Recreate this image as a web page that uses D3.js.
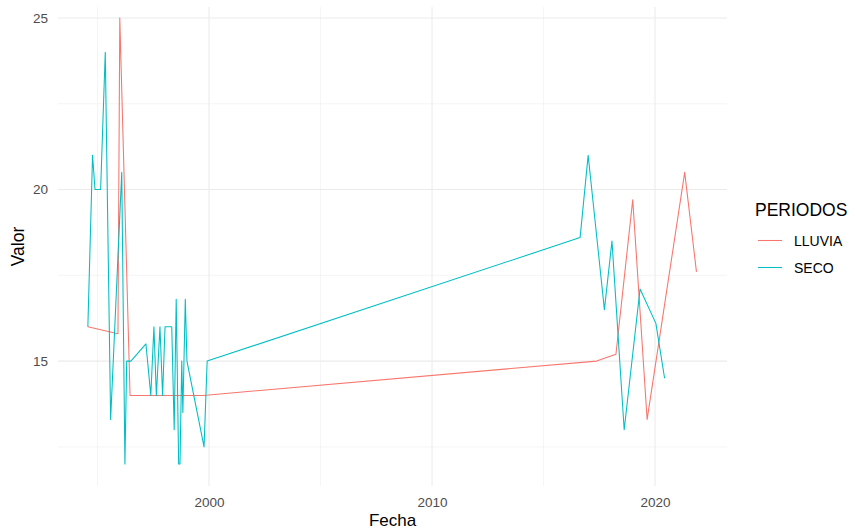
<!DOCTYPE html>
<html>
<head>
<meta charset="utf-8">
<script src="https://cdn.jsdelivr.net/npm/d3@7"></script>
<style>
  body { margin: 0; background: #fff; }
  svg { display: block; font-family: "Liberation Sans", Arial, sans-serif; }
</style>
</head>
<body>
<div id="chart"></div>
<script>
// values
const seriesNames = ["LLUVIA", "SECO"];
const seriesColors = ["#F8766D", "#00BFC4"];

const lluviaDates = ["1994-07-27", "1995-12-02", "1996-01-01", "1996-06-17", "1999-10-01",
  "2017-05-19", "2018-04-01", "2019-01-01", "2019-08-25", "2021-05-01", "2021-11-10"];
const lluviaValues = [16.0, 15.8, 25.0, 14.0, 14.0, 15.0, 15.2, 19.7, 13.3, 20.5, 17.6];

const secoDates = ["1994-07-27", "1994-10-12", "1994-11-21", "1995-02-21", "1995-05-08",
  "1995-08-04", "1996-02-02", "1996-03-25", "1996-04-23", "1996-07-01", "1997-03-04",
  "1997-05-23", "1997-07-13", "1997-08-22", "1997-10-20", "1997-12-02", "1998-01-11",
  "1998-05-01", "1998-06-10", "1998-07-13", "1998-08-22", "1998-09-13", "1998-10-12",
  "1998-10-30", "1998-12-09", "1999-01-05", "1999-10-12", "1999-12-02", "2016-08-22",
  "2017-01-01", "2017-09-24", "2018-01-26", "2018-08-14", "2019-05-01", "2020-01-15",
  "2020-06-06"];
const secoValues = [16.0, 21.0, 20.0, 20.0, 24.0, 13.3, 20.5, 12.0, 15.0, 15.0, 15.5,
  14.0, 16.0, 14.0, 16.0, 14.0, 16.0, 16.0, 13.0, 16.8, 12.0, 12.0, 15.0, 13.5, 16.8,
  15.0, 12.5, 15.0, 18.6, 21.0, 16.5, 18.5, 13.0, 17.1, 16.1, 14.5];

const xMajor = ["2000-01-01", "2010-01-01", "2020-01-01"];
const xMinor = ["1995-01-01", "2005-01-01", "2015-01-01"];
const yMajor = [15, 20, 25];
const yMinor = [12.5, 17.5, 22.5];

const parse = d3.timeParse("%Y-%m-%d");
const series = [
  { name: seriesNames[0], color: seriesColors[0],
    pts: lluviaDates.map((d, i) => ({ t: parse(d), v: lluviaValues[i] })) },
  { name: seriesNames[1], color: seriesColors[1],
    pts: secoDates.map((d, i) => ({ t: parse(d), v: secoValues[i] })) }
];

const W = 856, H = 531;
const m = { t: 7, r: 129, b: 45, l: 58 };
const svg = d3.select("#chart").append("svg").attr("width", W).attr("height", H);

// panel limits as ggplot set them (data range + 5%)
const x = d3.scaleTime()
  .domain([new Date(1993, 2, 25), new Date(2023, 2, 25)])
  .range([m.l, W - m.r]);
const y = d3.scaleLinear().domain([11.36, 25.32]).range([H - m.b, m.t]);

const grid = svg.append("g");
grid.selectAll(".xmin").data(xMinor.map(parse)).join("line")
  .attr("x1", d => x(d)).attr("x2", d => x(d)).attr("y1", m.t).attr("y2", H - m.b)
  .attr("stroke", "#EBEBEB").attr("stroke-width", 0.55);
grid.selectAll(".ymin").data(yMinor).join("line")
  .attr("x1", m.l).attr("x2", W - m.r).attr("y1", d => y(d)).attr("y2", d => y(d))
  .attr("stroke", "#EBEBEB").attr("stroke-width", 0.55);
grid.selectAll(".xmaj").data(xMajor.map(parse)).join("line")
  .attr("x1", d => x(d)).attr("x2", d => x(d)).attr("y1", m.t).attr("y2", H - m.b)
  .attr("stroke", "#EBEBEB").attr("stroke-width", 1.07);
grid.selectAll(".ymaj").data(yMajor).join("line")
  .attr("x1", m.l).attr("x2", W - m.r).attr("y1", d => y(d)).attr("y2", d => y(d))
  .attr("stroke", "#EBEBEB").attr("stroke-width", 1.07);

const line = d3.line().x(d => x(d.t)).y(d => y(d.v));
series.forEach(s => {
  svg.append("path").datum(s.pts).attr("d", line)
    .attr("fill", "none").attr("stroke", s.color).attr("stroke-width", 1.07)
    .attr("stroke-linejoin", "round");
});

// axes
const ax = svg.append("g").attr("transform", `translate(${m.l - 1},0)`)
  .call(d3.axisLeft(y).tickValues(yMajor).tickSize(0).tickPadding(9));
const bx = svg.append("g").attr("transform", `translate(0,${H - m.b})`)
  .call(d3.axisBottom(x).tickValues(xMajor.map(parse)).tickFormat(d3.timeFormat("%Y")).tickSize(0).tickPadding(11));
[ax, bx].forEach(g => {
  g.select(".domain").remove();
  g.selectAll("text").attr("fill", "#4D4D4D").style("font-size", "13.5px")
    .style("font-family", "'Liberation Sans', Arial, sans-serif");
});

svg.append("text").attr("x", (m.l + W - m.r) / 2).attr("y", 526).attr("text-anchor", "middle")
  .style("font-size", "17px").text("Fecha");
svg.append("text").attr("transform", `translate(24,${(m.t + H - m.b) / 2}) rotate(-90)`)
  .attr("text-anchor", "middle").style("font-size", "17.5px").text("Valor");

// legend
const lg = svg.append("g").attr("transform", "translate(748,0)");
lg.append("text").attr("x", 7).attr("y", 216).style("font-size", "17.5px").text("PERIODOS");
series.forEach((s, i) => {
  const yy = 240.5 + i * 27;
  lg.append("line").attr("x1", 10).attr("x2", 34).attr("y1", yy).attr("y2", yy)
    .attr("stroke", s.color).attr("stroke-width", 1.07);
  lg.append("text").attr("x", 46).attr("y", yy + 5.5).style("font-size", "14px").text(s.name);
});
</script>
</body>
</html>
